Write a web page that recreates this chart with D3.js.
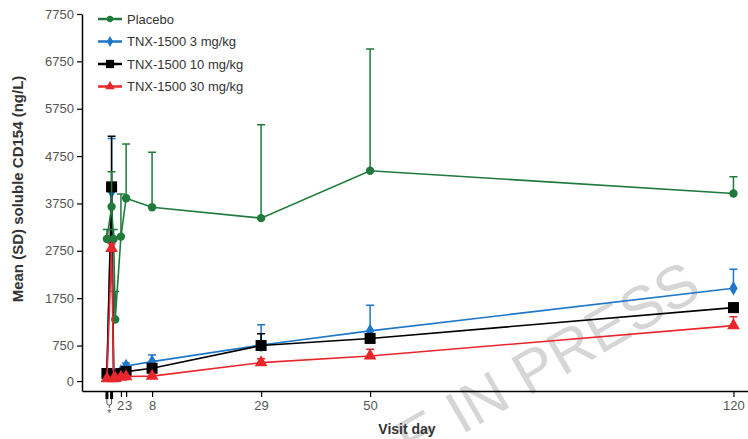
<!DOCTYPE html>
<meta charset="utf-8">
<script src="https://d3js.org/d3.v7.min.js"></script>
<style>
  body { margin: 0; background: #fff; }
  svg { font-family: Arial, "Liberation Sans", sans-serif; }
</style>
<svg id="chart" width="748" height="439"></svg>
<script>

// Visit days (the first four are the day-1 timepoints)
const visitDays = [-0.7, 0.2, 0.6, 0.9, 2, 3, 8, 29, 50, 120];
const dayTicks = [2, 3, 8, 29, 50, 120];
const yTicks = [0, 750, 1750, 2750, 3750, 4750, 5750, 6750, 7750];
const seriesNames = ["Placebo", "TNX-1500 3 mg/kg", "TNX-1500 10 mg/kg", "TNX-1500 30 mg/kg"];

// mean and SD (ng/L)
const placeboMean = [3000, 3680, 3000, 1300, 3050, 3860, 3670, 3440, 4440, 3960];
const placeboSD   = [200, 740, 200, 590, 900, 1145, 1160, 1970, 2570, 355];
const dose3Mean   = [150, 4000, 120, 130, 200, 320, 410, 760, 1060, 1960];
const dose3SD     = [30, 1120, 20, 20, 40, 60, 140, 430, 540, 400];
const dose10Mean  = [160, 4100, 100, 110, 160, 200, 270, 750, 900, 1550];
const dose10SD    = [30, 1070, 20, 20, 30, 40, 60, 250, 80, 100];
const dose30Mean  = [50, 2800, 50, 60, 85, 95, 105, 390, 530, 1170];
const dose30SD    = [10, 100, 10, 10, 15, 20, 20, 80, 140, 190];

const svg = d3.select("#chart"),
  width = +svg.attr("width"),
  height = +svg.attr("height");

const x = d3.scaleLinear().domain([-5.5, 122.8]).range([82, 748]);
const y = d3.scaleLinear().domain([-210, 7750]).range([391, 14]);

// watermark
svg.append("text")
  .attr("transform", "translate(704,295) rotate(-30)")
  .attr("text-anchor", "end")
  .style("font-size", "60px")
  .style("fill", "#d6d6d6")
  .text("ARTICLE IN PRESS");

// y axis
const yAxis = svg.append("g")
  .attr("transform", "translate(82,0)")
  .call(d3.axisLeft(y).tickValues(yTicks).tickSize(5).tickSizeOuter(0).tickFormat(d3.format("d")));
yAxis.select(".domain").attr("stroke-width", 1.5);
yAxis.selectAll(".tick line").attr("stroke-width", 1.2);
yAxis.selectAll(".tick text").attr("x", -8).style("font-size", "13px").style("fill", "#555").style("font-family", "Arial, 'Liberation Sans', sans-serif");

// x axis
const xAxis = svg.append("g")
  .attr("transform", "translate(0,391)")
  .call(d3.axisBottom(x).tickValues(dayTicks).tickSize(6).tickSizeOuter(0));
xAxis.select(".domain").attr("stroke-width", 1.5);
xAxis.selectAll(".tick line").attr("stroke-width", 1.2);
xAxis.selectAll(".tick text").attr("y", 10)
  .attr("dx", d => d === 2 ? -0.8 : d === 3 ? 2 : 0)
  .style("font-size", "13px").style("fill", "#555").style("font-family", "Arial, 'Liberation Sans', sans-serif");

// day-1 timepoint ticks and bracket with footnote mark
const x0 = x(visitDays[0]), x1 = x(visitDays[1]);
svg.append("g").selectAll("line")
  .data([visitDays[0], visitDays[1]])
  .join("line")
  .attr("x1", d => x(d)).attr("x2", d => x(d))
  .attr("y1", 391).attr("y2", 399)
  .attr("stroke", "#000").attr("stroke-width", 3);
svg.append("path")
  .attr("d", `M${x0},399 V403 Q${x0},405 ${x0 + 2},405 H${x1 - 2} Q${x1},405 ${x1},403 V399 M${(x0 + x1) / 2},405 V408`)
  .attr("fill", "none").attr("stroke", "#555").attr("stroke-width", 1);
svg.append("text")
  .attr("x", (x0 + x1) / 2).attr("y", 417)
  .attr("text-anchor", "middle")
  .style("font-size", "10px").style("fill", "#555")
  .text("*");

// axis titles
svg.append("text")
  .attr("transform", "translate(23,189) rotate(-90)")
  .attr("text-anchor", "middle")
  .style("font-size", "15px").style("font-weight", "bold").style("fill", "#333")
  .text("Mean (SD) soluble CD154 (ng/L)");
svg.append("text")
  .attr("x", 407).attr("y", 434)
  .attr("text-anchor", "middle")
  .style("font-size", "14px").style("font-weight", "bold").style("fill", "#333")
  .text("Visit day");

const series = [
  { name: seriesNames[1], mean: dose3Mean, sd: dose3SD, color: "#1f77c9", shape: "diamond" },
  { name: seriesNames[2], mean: dose10Mean, sd: dose10SD, color: "#000000", shape: "square" },
  { name: seriesNames[0], mean: placeboMean, sd: placeboSD, color: "#1f7a3c", shape: "circle" },
  { name: seriesNames[3], mean: dose30Mean, sd: dose30SD, color: "#e8262b", shape: "triangle" }
];

const line = d3.line().x(d => x(d.day)).y(d => y(d.v));

function marker(g, shape, color, s) {
  if (shape === "circle") {
    g.append("circle").attr("r", 4.2 * s).attr("fill", color);
  } else if (shape === "square") {
    g.append("rect").attr("x", -5.5 * s).attr("y", -5.5 * s)
      .attr("width", 11 * s).attr("height", 11 * s).attr("fill", color);
  } else if (shape === "diamond") {
    g.append("path").attr("d", d3.symbol(d3.symbolDiamond, 60 * s * s)()).attr("fill", color);
  } else {
    g.append("path").attr("d", d3.symbol(d3.symbolTriangle, 70 * s * s)()).attr("fill", color);
  }
}

series.forEach(function (s) {
  const pts = visitDays.map((d, i) => ({ day: d, v: s.mean[i], sd: s.sd[i] }));
  const g = svg.append("g");

  // error bars (upper SD)
  g.selectAll(".err")
    .data(pts.filter(p => p.sd > 0))
    .join("path")
    .attr("d", p => `M${x(p.day)},${y(p.v)} V${y(p.v + p.sd)} M${x(p.day) - 4},${y(p.v + p.sd)} H${x(p.day) + 4}`)
    .attr("stroke", s.color).attr("stroke-width", 1.5).attr("fill", "none");

  g.append("path")
    .datum(pts)
    .attr("d", line)
    .attr("fill", "none")
    .attr("stroke", s.color)
    .attr("stroke-width", 1.6);

  pts.forEach(function (p) {
    const m = g.append("g").attr("transform", `translate(${x(p.day)},${y(p.v)})`);
    marker(m, s.shape, s.color, 1);
  });
});

// legend
const legendOrder = [
  { name: seriesNames[0], color: "#1f7a3c", shape: "circle" },
  { name: seriesNames[1], color: "#1f77c9", shape: "diamond" },
  { name: seriesNames[2], color: "#000000", shape: "square" },
  { name: seriesNames[3], color: "#e8262b", shape: "triangle" }
];
const legend = svg.append("g").attr("transform", "translate(98,19)");
legendOrder.forEach(function (d, i) {
  const row = legend.append("g").attr("transform", `translate(0,${i * 22.5})`);
  row.append("line").attr("x1", 0).attr("x2", 24).attr("stroke", d.color).attr("stroke-width", 2.5);
  const m = row.append("g").attr("transform", "translate(12,0)");
  marker(m, d.shape, d.color, 0.75);
  row.append("text").attr("x", 29).attr("dy", "0.35em")
    .style("font-size", "13px").style("fill", "#333")
    .text(d.name);
});

</script>
